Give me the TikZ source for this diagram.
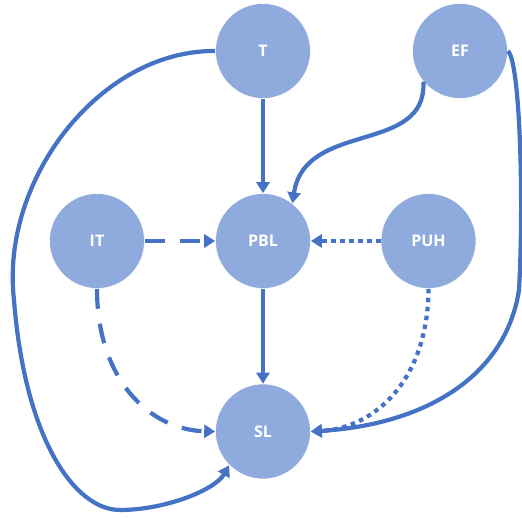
\documentclass[tikz,border=0pt]{standalone}
\usepackage{fontspec}
\setmainfont{Open Sans}
\usetikzlibrary{arrows.meta}
\definecolor{nodefill}{HTML}{8FAADC}
\definecolor{edgecol}{HTML}{4472C4}
\tikzset{
  circ/.style={circle, fill=nodefill, draw=white, line width=0.6pt, minimum size=95pt, inner sep=0pt, text=white, font=\fontsize{16}{16}\selectfont\bfseries},
  edge/.style={draw=edgecol, line width=4.2pt, -{Triangle[length=11pt,width=13pt]}},
  dashedge/.style={edge, dash pattern=on 20pt off 15pt},
  dotedge/.style={edge, dash pattern=on 4.5pt off 4.5pt},
}
\begin{document}
\begin{tikzpicture}[x=1pt,y=-1pt]
\useasboundingbox (0,0) rectangle (522,518);
\node[circ] (T) at (263,51) {T};
\node[circ] (EF) at (460,51) {EF};
\node[circ] (IT) at (97,241) {IT};
\node[circ] (PBL) at (263,241) {PBL};
\node[circ] (PUH) at (428.5,241) {PUH};
\node[circ] (SL) at (263,431.5) {SL};
\coordinate (lft) at (14,300);
\coordinate (bot) at (120,510);
\coordinate (rgt) at (519,290);
% straight edges
\draw[edge] (T) -- (PBL);
\draw[edge] (PBL) -- (SL);
\draw[dashedge] (IT) -- (PBL);
\draw[dotedge] (PUH) -- (PBL);
% curved edges
\draw[edge] (EF.-140) .. controls (427,155) and (305,120) .. (PBL.52);
\draw[dashedge] (IT.south) .. controls (97,380) and (150,430) .. (SL.west);
\draw[dotedge] (PUH.south) .. controls (428,380) and (375,428) .. (SL.east);
\draw[edge] (EF.east) .. controls (520,60) and (524,200) .. (rgt) .. controls (505,380) and (420,425) .. (SL.east);
\draw[edge] (T.west) .. controls (100,50) and (0,180) .. (lft) .. controls (25,440) and (75,510) .. (bot) .. controls (165,510) and (215,490) .. (SL.-135);
\end{tikzpicture}
\end{document}
